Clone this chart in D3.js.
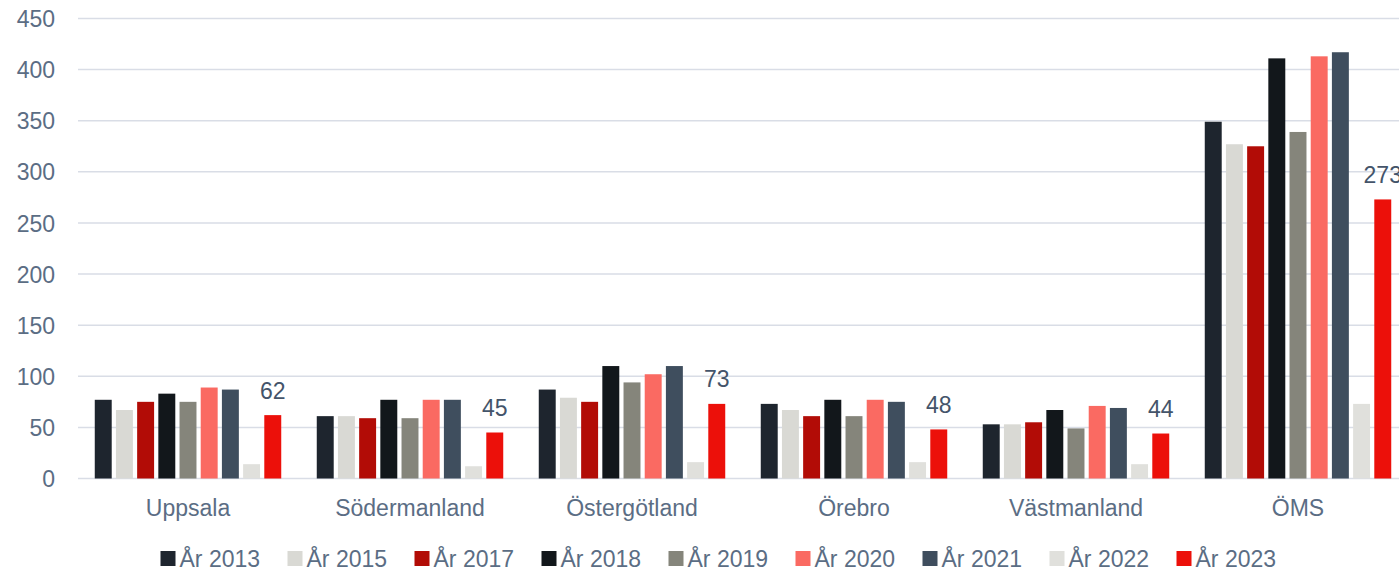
<!DOCTYPE html>
<html lang="sv">
<head>
<meta charset="UTF-8">
<title>Län per år</title>
<script src="https://cdn.jsdelivr.net/npm/d3@7"></script>
<style>
  body { margin: 0; padding: 0; background: #fff; }
  svg { display: block; font-family: "Liberation Sans", Arial, sans-serif; }
  .grid line { stroke: #d9dde6; stroke-width: 1.5; }
  .yAxis text { fill: #5b6d84; font-size: 23px; }
  .xAxis text { fill: #5b6d84; font-size: 23px; }
  .lbl { fill: #44546a; font-size: 23px; }
  .legend text { fill: #5b6d84; font-size: 23px; }
</style>
</head>
<body>
<div id="chart"></div>
<script>
// categories and series
const regions = ["Uppsala", "Södermanland", "Östergötland", "Örebro", "Västmanland", "ÖMS"];
const years = ["År 2013", "År 2015", "År 2017", "År 2018", "År 2019", "År 2020", "År 2021", "År 2022", "År 2023"];
const colors = ["#1e252e", "#d9d9d4", "#b20c06", "#12171b", "#85857b", "#fa6a62", "#3f4e5e", "#e0e0dc", "#ec100a"];

// values per year, one entry per region
const y2013 = [77, 61, 87, 73, 53, 349];
const y2015 = [67, 61, 79, 67, 53, 327];
const y2017 = [75, 59, 75, 61, 55, 325];
const y2018 = [83, 77, 110, 77, 67, 411];
const y2019 = [75, 59, 94, 61, 49, 339];
const y2020 = [89, 77, 102, 77, 71, 413];
const y2021 = [87, 77, 110, 75, 69, 417];
const y2022 = [14, 12, 16, 16, 14, 73];
const y2023 = [62, 45, 73, 48, 44, 273];
const series = [y2013, y2015, y2017, y2018, y2019, y2020, y2021, y2022, y2023];

const yTicks = [0, 50, 100, 150, 200, 250, 300, 350, 400, 450];

let width = 1399, height = 572;

let svg = d3.select("#chart").append("svg")
  .attr("width", width)
  .attr("height", height);

let y = d3.scaleLinear().domain([0, 450]).range([478.5, 18.5]);

let x0 = d3.scaleBand().domain(regions).range([77, 1409])
  .paddingInner(0.16).paddingOuter(0.08);
let x1 = d3.scaleBand().domain(years).range([0, x0.bandwidth()])
  .paddingInner(0.2).paddingOuter(0);

// gridlines
svg.append("g").attr("class", "grid")
  .selectAll("line").data(yTicks).enter().append("line")
  .attr("x1", 78).attr("x2", width)
  .attr("y1", d => y(d)).attr("y2", d => y(d));

// y axis labels
svg.append("g").attr("class", "yAxis")
  .attr("transform", "translate(55,0)")
  .call(d3.axisLeft(y).tickValues(yTicks).tickSize(0).tickPadding(0))
  .call(g => g.select(".domain").remove())
  .selectAll("text").attr("dy", "0.35em");

// x axis labels
svg.append("g").attr("class", "xAxis")
  .selectAll("text").data(regions).enter().append("text")
  .attr("x", d => x0(d) + x0.bandwidth() / 2)
  .attr("y", 516)
  .attr("text-anchor", "middle")
  .text(d => d);

// bars
let groups = svg.append("g").selectAll("g").data(regions).enter().append("g")
  .attr("transform", d => "translate(" + x0(d) + ",0)");

groups.selectAll("rect")
  .data((d, i) => years.map((yr, j) => ({ year: yr, value: series[j][i], color: colors[j] })))
  .enter().append("rect")
  .attr("x", d => x1(d.year))
  .attr("width", x1.bandwidth())
  .attr("y", d => y(d.value))
  .attr("height", d => y(0) - y(d.value))
  .attr("fill", d => d.color);

// data labels on the last year only
groups.append("text").attr("class", "lbl")
  .attr("x", x1("År 2023") + x1.bandwidth() / 2)
  .attr("y", (d, i) => y(y2023[i]) - 16.5)
  .attr("text-anchor", "middle")
  .text((d, i) => y2023[i]);

// legend
let legend = svg.append("g").attr("class", "legend")
  .selectAll("g").data(years).enter().append("g")
  .attr("transform", (d, i) => "translate(" + (160.5 + i * 127) + ",551)");

legend.append("rect")
  .attr("width", 15).attr("height", 15)
  .attr("fill", (d, i) => colors[i]);

legend.append("text")
  .attr("x", 19).attr("y", 16)
  .text(d => d);
</script>
</body>
</html>
